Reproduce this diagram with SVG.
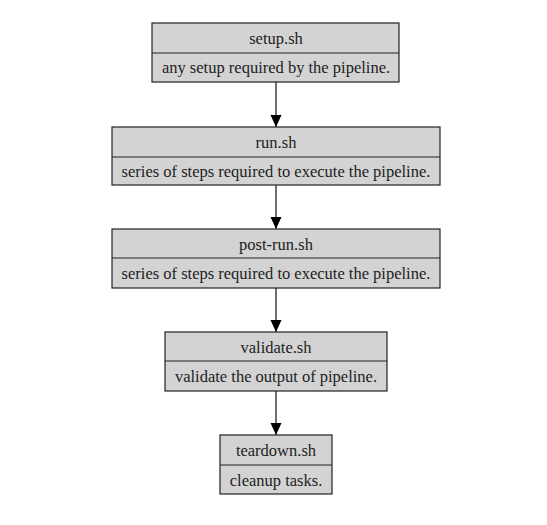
<svg xmlns="http://www.w3.org/2000/svg" width="547" height="525" viewBox="0 0 547 525">
<defs>
<style>
.box{fill:#d3d3d3;stroke:#222;stroke-width:1.2}
.div{stroke:#222;stroke-width:1.2}
text{font-family:"Liberation Serif","Times New Roman",serif;font-size:16.5px;fill:#222;text-anchor:middle}
.edge{stroke:#222;stroke-width:1.3;fill:none}
</style>
<marker id="ah" markerWidth="11" markerHeight="12" refX="12" refY="5.5" orient="auto" markerUnits="userSpaceOnUse">
<path d="M0,0 L12,5.5 L0,11 Z" fill="#000"/>
</marker>
</defs>
<rect width="547" height="525" fill="#fff"/>
<g id="edges">
<line class="edge" x1="276" y1="82" x2="276" y2="127" marker-end="url(#ah)"/>
<line class="edge" x1="276" y1="185" x2="276" y2="229" marker-end="url(#ah)"/>
<line class="edge" x1="276" y1="288" x2="276" y2="332" marker-end="url(#ah)"/>
<line class="edge" x1="276" y1="391" x2="276" y2="435" marker-end="url(#ah)"/>
</g>
<g id="setup">
<rect class="box" x="152" y="23" width="247" height="59"/>
<line class="div" x1="152" y1="53" x2="399" y2="53"/>
<text x="276" y="44">setup.sh</text>
<text x="276" y="73">any setup required by the pipeline.</text>
</g>
<g id="run">
<rect class="box" x="112" y="127" width="328" height="58"/>
<line class="div" x1="112" y1="157" x2="440" y2="157"/>
<text x="276" y="148">run.sh</text>
<text x="276" y="177">series of steps required to execute the pipeline.</text>
</g>
<g id="postrun">
<rect class="box" x="112" y="229" width="328" height="59"/>
<line class="div" x1="112" y1="258" x2="440" y2="258"/>
<text x="276" y="250">post-run.sh</text>
<text x="276" y="279">series of steps required to execute the pipeline.</text>
</g>
<g id="validate">
<rect class="box" x="165" y="332" width="222" height="59"/>
<line class="div" x1="165" y1="361" x2="387" y2="361"/>
<text x="276" y="353">validate.sh</text>
<text x="276" y="382">validate the output of pipeline.</text>
</g>
<g id="teardown">
<rect class="box" x="220" y="435" width="112" height="59"/>
<line class="div" x1="220" y1="465" x2="332" y2="465"/>
<text x="276" y="456">teardown.sh</text>
<text x="276" y="486">cleanup tasks.</text>
</g>
</svg>
